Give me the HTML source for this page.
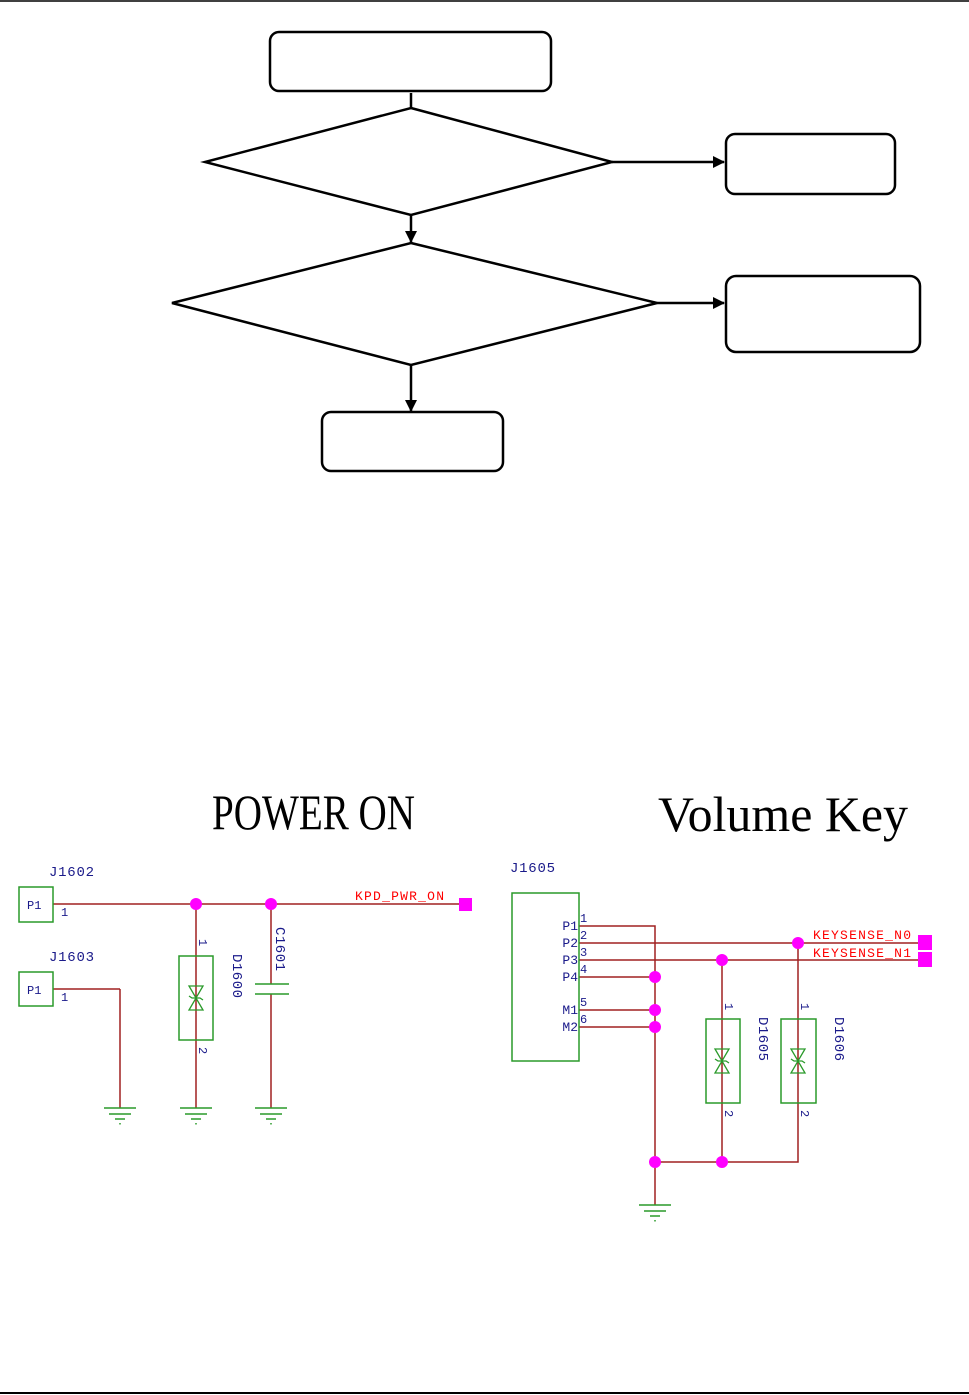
<!DOCTYPE html>
<html><head><meta charset="utf-8"><style>
html,body{margin:0;padding:0;background:#fff;}
svg{display:block;}
</style></head><body>
<svg width="969" height="1395" viewBox="0 0 969 1395" xmlns="http://www.w3.org/2000/svg">
<defs>
<marker id="ar" markerWidth="12" markerHeight="12" refX="11" refY="6" orient="auto" markerUnits="userSpaceOnUse">
<path d="M0,0 L12,6 L0,12 Z" fill="#000"/></marker>
<g id="gnd" stroke="#2a9a2a" stroke-width="1.5">
<line x1="-16" y1="0" x2="16" y2="0"/><line x1="-11" y1="6" x2="11" y2="6"/><line x1="-5" y1="11" x2="5" y2="11"/><line x1="0" y1="15" x2="0" y2="16.5"/></g>
<g id="tvs" stroke="#2a9a2a" stroke-width="1.3" fill="none">
<path d="M-7,-12 L7,-12 L0,0 Z M-7,12 L7,12 L0,0 Z M-7,-2 L-4,0 L4,0 L7,2"/></g>
</defs>
<line x1="0" y1="1" x2="969" y2="1" stroke="#000" stroke-width="1.5"/>
<line x1="0" y1="1393" x2="969" y2="1393" stroke="#000" stroke-width="2"/>

<g stroke="#000" stroke-width="2.5" fill="none">
<rect x="270" y="32" width="281" height="59" rx="9"/>
<rect x="726" y="134" width="169" height="60" rx="9"/>
<rect x="726" y="276" width="194" height="76" rx="10"/>
<rect x="322" y="412" width="181" height="59" rx="9"/>
<polygon points="411,108 612,162 411,215 205,162"/>
<polygon points="411,243 657,303 411,365 172,303"/>
<line x1="411" y1="93" x2="411" y2="108"/>
<line x1="612" y1="162" x2="724" y2="162" marker-end="url(#ar)"/>
<line x1="411" y1="215" x2="411" y2="242" marker-end="url(#ar)"/>
<line x1="657" y1="303" x2="724" y2="303" marker-end="url(#ar)"/>
<line x1="411" y1="365" x2="411" y2="411" marker-end="url(#ar)"/>
</g>

<g font-family="'Liberation Serif','Noto Serif CJK SC',serif" fill="#000">
<text x="212" y="829" font-size="50" textLength="203" lengthAdjust="spacingAndGlyphs">POWER ON</text>
<text x="658" y="831" font-size="50" textLength="250" lengthAdjust="spacingAndGlyphs">Volume Key</text>
</g>

<!-- POWER ON schematic -->
<g stroke="#a02020" stroke-width="1.5" fill="none">
<line x1="53" y1="904" x2="465" y2="904"/>
<line x1="53" y1="989" x2="120" y2="989"/><line x1="120" y1="989" x2="120" y2="1108"/>
<line x1="196" y1="904" x2="196" y2="1108"/>
<line x1="271" y1="904" x2="271" y2="984"/><line x1="271" y1="994" x2="271" y2="1108"/>
</g>
<g stroke="#2a9a2a" stroke-width="1.5" fill="none">
<rect x="19" y="887" width="34" height="35"/>
<rect x="19" y="972" width="34" height="34"/>
<rect x="179" y="956" width="34" height="84"/>
<line x1="255" y1="984" x2="289" y2="984"/><line x1="255" y1="994" x2="289" y2="994"/>
</g>
<use href="#tvs" x="196" y="998"/>
<use href="#gnd" x="120" y="1108"/><use href="#gnd" x="196" y="1108"/><use href="#gnd" x="271" y="1108"/>
<g fill="#ff00ff">
<circle cx="196" cy="904" r="6"/><circle cx="271" cy="904" r="6"/>
<rect x="459" y="898" width="13" height="13"/>
</g>
<g font-family="'Liberation Mono',monospace" font-size="14" fill="#1a1a8a">
<text x="49" y="876" textLength="45">J1602</text><text x="49" y="961" textLength="45">J1603</text>
<text x="27" y="909" font-size="12">P1</text><text x="27" y="994" font-size="12">P1</text>
<text x="61" y="916" font-size="12">1</text><text x="61" y="1001" font-size="12">1</text>
<text transform="translate(199,939) rotate(90)" font-size="12">1</text>
<text transform="translate(199,1047) rotate(90)" font-size="12">2</text>
<text transform="translate(233,954) rotate(90)" textLength="44">D1600</text>
<text transform="translate(276,927) rotate(90)" textLength="44">C1601</text>
</g>
<text x="355" y="900" font-family="'Liberation Mono',monospace" font-size="13" fill="#ff0000" textLength="89">KPD_PWR_ON</text>

<!-- Volume key schematic -->
<g stroke="#a02020" stroke-width="1.5" fill="none">
<polyline points="579,926 655,926 655,1205"/>
<line x1="579" y1="943" x2="920" y2="943"/>
<line x1="579" y1="960" x2="920" y2="960"/>
<line x1="579" y1="977" x2="655" y2="977"/>
<line x1="579" y1="1010" x2="655" y2="1010"/>
<line x1="579" y1="1027" x2="655" y2="1027"/>
<line x1="722" y1="960" x2="722" y2="1162"/>
<polyline points="798,943 798,1162 655,1162"/>
</g>
<g stroke="#2a9a2a" stroke-width="1.5" fill="none">
<rect x="512" y="893" width="67" height="168"/>
<rect x="706" y="1019" width="34" height="84"/>
<rect x="781" y="1019" width="35" height="84"/>
</g>
<use href="#tvs" x="722" y="1061"/><use href="#tvs" x="798" y="1061"/>
<use href="#gnd" x="655" y="1205"/>
<g fill="#ff00ff">
<circle cx="655" cy="977" r="6"/><circle cx="655" cy="1010" r="6"/><circle cx="655" cy="1027" r="6"/>
<circle cx="722" cy="960" r="6"/><circle cx="798" cy="943" r="6"/>
<circle cx="655" cy="1162" r="6"/><circle cx="722" cy="1162" r="6"/>
<rect x="918" y="935" width="14" height="15"/><rect x="918" y="952" width="14" height="15"/>
</g>
<g font-family="'Liberation Mono',monospace" font-size="14" fill="#1a1a8a">
<text x="510" y="872" textLength="45">J1605</text>
<g text-anchor="end" font-size="13">
<text x="578" y="930">P1</text><text x="578" y="947">P2</text><text x="578" y="964">P3</text><text x="578" y="981">P4</text>
<text x="578" y="1014">M1</text><text x="578" y="1031">M2</text></g>
<g font-size="12">
<text x="580" y="922">1</text><text x="580" y="939">2</text><text x="580" y="956">3</text><text x="580" y="973">4</text>
<text x="580" y="1006">5</text><text x="580" y="1023">6</text>
<text transform="translate(725,1003) rotate(90)">1</text><text transform="translate(725,1110) rotate(90)">2</text>
<text transform="translate(801,1003) rotate(90)">1</text><text transform="translate(801,1110) rotate(90)">2</text></g>
<text transform="translate(759,1017) rotate(90)" textLength="44">D1605</text>
<text transform="translate(835,1017) rotate(90)" textLength="44">D1606</text>
</g>
<g font-family="'Liberation Mono',monospace" font-size="13" fill="#ff0000">
<text x="813" y="939" textLength="98">KEYSENSE_N0</text><text x="813" y="957" textLength="98">KEYSENSE_N1</text>
</g>
</svg>
</body></html>
